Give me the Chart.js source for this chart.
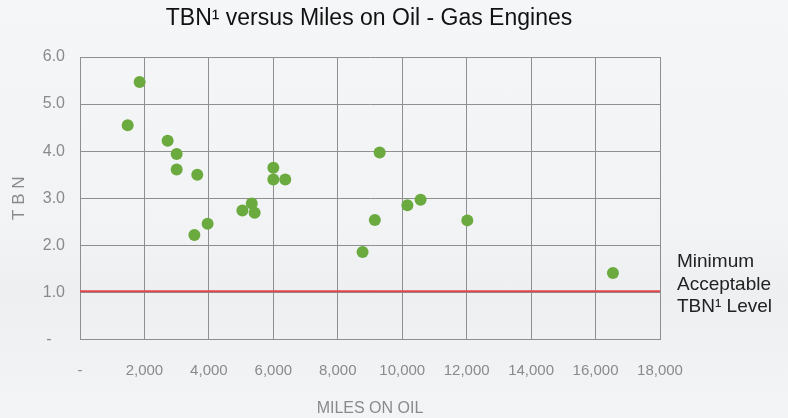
<!DOCTYPE html>
<html>
<head>
<meta charset="utf-8">
<script src="https://cdn.jsdelivr.net/npm/chart.js@4.4.0/dist/chart.umd.min.js"></script>
<style>
  html, body { margin: 0; padding: 0; background: #f3f4f7; }
  #wrap { width: 788px; height: 418px; position: relative;
    background: linear-gradient(180deg, #f5f6f8 0%, #f2f3f5 55%, #eeeff1 70%, #f3f4f6 100%); }
</style>
</head>
<body>
<div id="wrap"><canvas id="tbnChart" width="788" height="418"></canvas></div>
<script>
// miles on oil / TBN readings
const milesOnOil = [1480, 1850, 2720, 3000, 3000, 3550, 3640, 3960, 5040, 5330, 5420,
  6000, 6000, 6370, 8770, 9150, 9300, 10160, 10570, 12020, 16540];
const tbnValues = [4.55, 5.47, 4.22, 3.94, 3.61, 2.22, 3.50, 2.46, 2.74, 2.89, 2.69,
  3.65, 3.40, 3.40, 1.86, 2.54, 3.97, 2.85, 2.97, 2.53, 1.41];
const minimumTbn = 1.0;
const xTicks = [0, 2000, 4000, 6000, 8000, 10000, 12000, 14000, 16000, 18000];
const yTicks = [0, 1, 2, 3, 4, 5, 6];

const chartTitle = "TBN\u00b9 versus Miles on Oil - Gas Engines";
const noteLines = ["Minimum", "Acceptable", "TBN\u00b9 Level"];

const greyText = "#8a8a8a";
const gridColor = "#8f8f8f";
const fontFamily = "'Liberation Sans', Arial, sans-serif";

function scatterPoints() {
  let pts = [];
  for (let [i, m] of milesOnOil.entries()) {
    pts.push({ x: m, y: tbnValues[i] });
  }
  return pts;
}

// title (offset to the right like the original) and the note next to the red line
const textPlugin = {
  id: "texts",
  afterDraw(chart) {
    const ctx = chart.ctx;
    ctx.save();
    ctx.textBaseline = "middle";
    ctx.fillStyle = "#111";
    ctx.font = "23px " + fontFamily;
    ctx.textAlign = "center";
    ctx.fillText(chartTitle, 369, 19);

    ctx.fillStyle = "#222";
    ctx.font = "19px " + fontFamily;
    ctx.textAlign = "left";
    const x = chart.chartArea.right + 17;
    noteLines.forEach((t, i) => ctx.fillText(t, x, 262 + i * 22.5));
    ctx.restore();
  }
};

new Chart("tbnChart", {
  type: "scatter",
  data: {
    datasets: [
      {
        type: "line",
        label: "Minimum",
        data: [{ x: xTicks[0], y: minimumTbn + 0.025 }, { x: xTicks[xTicks.length - 1], y: minimumTbn + 0.025 }],
        borderColor: "#e0464e",
        borderWidth: 2.2,
        pointRadius: 0,
        fill: false,
        order: 2,
      },
      {
        label: "TBN",
        data: scatterPoints(),
        backgroundColor: "#6aaa3f",
        borderWidth: 0,
        pointRadius: 6,
        order: 1,
      },
    ],
  },
  options: {
    responsive: false,
    animation: false,
    layout: { padding: { left: 0, right: 128, top: 57, bottom: 0 } },
    scales: {
      x: {
        type: "linear",
        min: 0,
        max: 18000,
        afterFit: (s) => { s.height = 78.5; },
        afterBuildTicks: (s) => { s.ticks = xTicks.map(v => ({ value: v })); },
        ticks: {
          color: greyText,
          padding: 22,
          font: { size: 15, family: fontFamily },
          callback: (v) => v === 0 ? "-" : v.toLocaleString("en-US"),
        },
        grid: { color: gridColor, drawTicks: false, lineWidth: 1 },
        border: { color: gridColor },
        title: {
          display: true,
          text: "MILES ON OIL",
          color: greyText,
          padding: 0,
          font: { size: 16, family: fontFamily },
        },
      },
      y: {
        min: 0,
        max: 6,
        afterFit: (s) => { s.width = 80; },
        afterBuildTicks: (s) => { s.ticks = yTicks.map(v => ({ value: v })); },
        ticks: {
          color: greyText,
          padding: 15,
          font: { size: 16, family: fontFamily },
          callback: (v) => v === 0 ? "-   " : v.toFixed(1),
        },
        grid: { color: gridColor, drawTicks: false, lineWidth: 1 },
        border: { color: gridColor },
        title: {
          display: true,
          text: "T B N",
          color: greyText,
          padding: { top: 9, bottom: 0 },
          font: { size: 17, family: fontFamily },
        },
      },
    },
    plugins: {
      legend: { display: false },
      tooltip: { enabled: false },
      title: { display: false },
    },
  },
  plugins: [textPlugin],
});
</script>
</body>
</html>
